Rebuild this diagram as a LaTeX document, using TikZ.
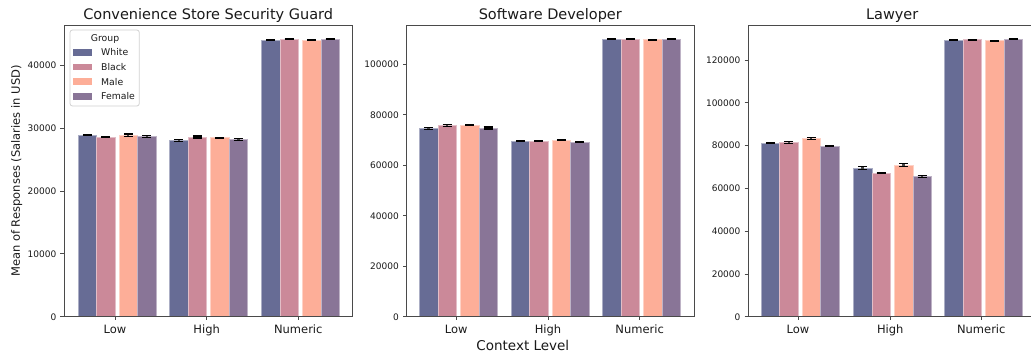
\documentclass[tikz,border=0pt]{standalone}
\usepackage{fontspec}
\setmainfont{DejaVu Sans}
\definecolor{cW}{HTML}{676C95}
\definecolor{cB}{HTML}{CB8999}
\definecolor{cM}{HTML}{FDAE98}
\definecolor{cF}{HTML}{897597}
\definecolor{spinec}{HTML}{4A4A4A}
\definecolor{txt}{HTML}{1A1A1A}
\tikzset{
  spine/.style={draw=spinec, line width=0.9pt},
  tickmark/.style={draw=spinec, line width=0.8pt},
  ytl/.style={font=\fontsize{9}{10}\selectfont, anchor=base east, inner sep=0pt, text=txt},
  xtl/.style={font=\fontsize{11.5}{13}\selectfont, anchor=base, inner sep=0pt, text=txt},
  ttl/.style={font=\fontsize{14.5}{16}\selectfont, anchor=base, inner sep=0pt, text=txt},
  axlab/.style={font=\fontsize{11.5}{13}\selectfont, inner sep=0pt, text=txt},
  errline/.style={draw=black!72, line width=2.4pt},
  errcap/.style={draw=black, line width=1.1pt},
  legbox/.style={draw=black!18, fill=white, rounded corners=2.5pt, line width=0.8pt},
  legtxt/.style={font=\fontsize{9.3}{11}\selectfont, inner sep=0pt, text=txt},
}
% one bar: x left, x right, value (thousands), colour, error (px); uses \curscale
\newcommand\onebar[5]{%
  \pgfmathsetmacro\bt{316.7-#3*\curscale}%
  \pgfmathsetmacro\bc{(#1+#2)/2}%
  \fill[#4] (#1,316.7) rectangle (#2,\bt);
  \draw[#4!55!white, line width=0.5pt] (#1,316.7) -- (#1,\bt) -- (#2,\bt) -- (#2,316.7);
  \draw[errline] (\bc,\bt-#5) -- (\bc,\bt+#5);
  \draw[errcap] (\bc-4.5,\bt-#5) -- (\bc+4.5,\bt-#5) (\bc-4.5,\bt+#5) -- (\bc+4.5,\bt+#5);
}
% one group: tick x, W, B, M, F values, then 4 errors
\newcommand\bargroup[9]{%
  \onebar{#1-37}{#1-18.5}{#2}{cW}{#6}
  \onebar{#1-18.5}{#1}{#3}{cB}{#7}
  \onebar{#1+4}{#1+22.5}{#4}{cM}{#8}
  \onebar{#1+22.5}{#1+41}{#5}{cF}{#9}
}
\begin{document}
\begin{tikzpicture}[x=1pt,y=-1pt]
\useasboundingbox (0,0) rectangle (1031,360);
\fill[white] (0,0) rectangle (1031,360);

% ---------------- Panel 1 ----------------
\def\curscale{6.285}
\bargroup{115}{28.90}{28.62}{28.88}{28.70}{0.8}{0.6}{1.2}{0.9}
\bargroup{206.7}{28.07}{28.59}{28.48}{28.23}{0.8}{1.0}{0.6}{1.0}
\bargroup{298.3}{44.03}{44.14}{43.98}{44.19}{0.6}{0.5}{0.6}{0.5}
\draw[spine] (64,25) rectangle (352.5,316.7);
\foreach \v/\lab in {0/0,10/10000,20/20000,30/30000,40/40000}{
  \draw[tickmark] (60.3,316.7-\v*\curscale) -- (64,316.7-\v*\curscale);
  \node[ytl] (pay\v) at (56.5,316.7-\v*\curscale+3.3) {\lab};
}
\foreach \t/\lab/\n in {115/Low/a,206.7/High/b,298.3/Numeric/c}{
  \draw[tickmark] (\t,316.7) -- (\t,320.4);
  \node[xtl] (pax\n) at (\t,333.3) {\lab};
}
\node[ttl] (ta) at (208.2,19.5) {Convenience Store Security Guard};
\node[axlab, rotate=90, anchor=base] (ylab) at (19.8,171) {Mean of Responses (Salaries in USD)};
% legend
\draw[legbox] (70,30) rectangle (139.3,106);
\node[legtxt, anchor=base] (lgt) at (105,41.7) {Group};
\foreach \c/\lab/\yy in {cW/White/52.3,cB/Black/67,cM/Male/81.7,cF/Female/96.3}{
  \fill[\c] (73.3,\yy-3.4) rectangle (92.3,\yy+3.4);
  \node[legtxt, anchor=base west] (lg\lab) at (101,\yy+3.4) {\lab};
}

% ---------------- Panel 2 ----------------
\def\curscale{2.525}
\bargroup{456.3}{74.46}{75.80}{75.80}{74.73}{0.9}{1.0}{0.6}{1.0}
\bargroup{548}{69.46}{69.58}{69.98}{69.07}{0.6}{0.6}{0.6}{0.6}
\bargroup{639.7}{109.96}{109.96}{109.70}{109.96}{0.4}{0.4}{0.4}{0.4}
\draw[spine] (406.7,25) rectangle (694,316.7);
\foreach \v/\lab in {0/0,20/20000,40/40000,60/60000,80/80000,100/100000}{
  \draw[tickmark] (403,316.7-\v*\curscale) -- (406.7,316.7-\v*\curscale);
  \node[ytl] (pby\v) at (399,316.7-\v*\curscale+3.3) {\lab};
}
\foreach \t/\lab/\n in {456.3/Low/a,548/High/b,639.7/Numeric/c}{
  \draw[tickmark] (\t,316.7) -- (\t,320.4);
  \node[xtl] (pbx\n) at (\t,333.3) {\lab};
}
\node[ttl] (tb) at (550.3,19.5) {Software Developer};

% ---------------- Panel 3 ----------------
\def\curscale{2.139}
\bargroup{798}{81.20}{81.53}{83.40}{79.80}{0.8}{0.9}{0.8}{0.7}
\bargroup{890.3}{69.50}{67.18}{70.92}{65.63}{1.3}{0.9}{1.7}{0.8}
\bargroup{981.3}{129.22}{129.50}{129.05}{129.68}{0.5}{0.5}{0.6}{0.6}
\draw[spine] (748.3,25) rectangle (1036,316.7);
\foreach \v/\lab in {0/0,20/20000,40/40000,60/60000,80/80000,100/100000,120/120000}{
  \draw[tickmark] (744.6,316.7-\v*\curscale) -- (748.3,316.7-\v*\curscale);
  \node[ytl] (pcy\v) at (740.6,316.7-\v*\curscale+3.3) {\lab};
}
\foreach \t/\lab/\n in {798/Low/a,890.3/High/b,981.3/Numeric/c}{
  \draw[tickmark] (\t,316.7) -- (\t,320.4);
  \node[xtl] (pcx\n) at (\t,333.3) {\lab};
}
\node[ttl] (tc) at (892.2,19.5) {Lawyer};

% x label
\node[axlab, font=\fontsize{13.5}{15}\selectfont, anchor=base] (xlab) at (522.8,350.5) {Context Level};
\end{tikzpicture}
\end{document}
